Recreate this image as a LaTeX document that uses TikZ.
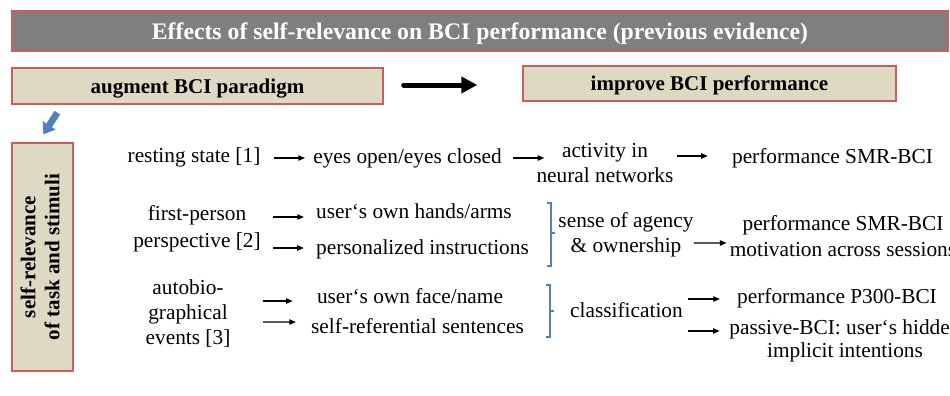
\documentclass[tikz,border=0pt]{standalone}
\usepackage{fontspec}
\usepackage{graphicx}
\setmainfont{Liberation Serif}
\usetikzlibrary{arrows.meta,calc}

\definecolor{barGray}{HTML}{7F7F7F}
\definecolor{boxTan}{HTML}{DDD9C3}
\definecolor{boxRed}{HTML}{CD5C5C}
\definecolor{accBlue}{HTML}{4F81BD}

\begin{document}
\begin{tikzpicture}[x=0.75pt,y=-0.75pt,
  hdrbar/.style={fill=barGray, draw=boxRed, line width=1pt, inner sep=0pt,
    minimum width=702pt, minimum height=30pt, text=white, text depth=0pt,
    font=\fontsize{17.8}{20}\selectfont\bfseries},
  tanbox/.style={fill=boxTan, draw=boxRed, line width=1pt, inner sep=0pt,
    text depth=0pt, font=\fontsize{15.75}{18}\selectfont\bfseries},
  txt/.style={inner sep=0pt, font=\fontsize{16}{18.75}\selectfont},
  conn/.style={line width=1pt, -{Triangle[length=5pt,width=4pt]}},
  bigarrow/.style={line width=3.75pt, line cap=round, -{Triangle[length=12pt,width=12pt]}},
  bluearrow/.style={accBlue, line width=5pt, -{Triangle[length=8pt,width=11pt]}},
  brk/.style={accBlue, line width=0.9pt}]

\useasboundingbox (0,0) rectangle (950,396);
\fill[white] (0,0) rectangle (950,396);
\clip (0,0) rectangle (950,396);

% header bar and the two summary boxes
\node[hdrbar] (title) at (480,31) {Effects of self-relevance on BCI performance (previous evidence)};
\node[tanbox, minimum width=278.25pt, minimum height=27pt] (aug) at (197.5,86) {augment BCI paradigm};
\node[tanbox, minimum width=279.75pt, minimum height=26.25pt] (imp) at (709.5,83.5) {improve BCI performance};
\node[tanbox, text depth=, minimum width=45.75pt, minimum height=171pt] (vbox) at (42.5,257)
  {\rotatebox{90}{\begin{tabular}{@{}c@{}}self-relevance\\of task and stimuli\end{tabular}}};

\draw[bigarrow] ($(aug.east)+(20,-1)$) -- ($(imp.west)+(-45,1.5)$);
\draw[bluearrow] ($(aug.south west)+(46,8)$) -- ($(vbox.north west)+(32,-8)$);

% row 1: resting state
\node[txt,anchor=base] (rs) at (194,162) {resting state [1]};
\node[txt,anchor=base] (eo) at (407.5,163) {eyes open/eyes closed};
\node[txt,align=center] (an) at (605,163.3) {activity in\\neural networks};
\node[txt,anchor=base] (ps) at (832.5,163) {performance SMR-BCI};

% row 2: first-person perspective
\node[txt,align=center,font=\fontsize{16}{20.25}\selectfont] (fp) at (197,228.5) {first-person\\perspective [2]};
\node[txt,anchor=base] (uh) at (414,218) {user‘s own hands/arms};
\node[txt,anchor=base] (pi) at (422.5,254) {personalized instructions};
\node[txt,align=center] (sa) at (626,234.5) {sense of agency\\\& ownership};
\node[txt,align=center,font=\fontsize{16}{19.5}\selectfont] (pm) at (843,235.8) {performance SMR-BCI\\motivation across sessions};

% row 3: autobiographical events
\node[txt,align=center] (ab) at (188,313.4) {autobio-\\graphical\\events [3]};
\node[txt,anchor=base] (uf) at (410,303) {user‘s own face/name};
\node[txt,anchor=base] (sr) at (417.5,333) {self-referential sentences};
\node[txt,anchor=base] (cl) at (626.5,317) {classification};
\node[txt,anchor=base] (p3) at (837,303) {performance P300-BCI};
\node[txt,align=center,font=\fontsize{16}{17.25}\selectfont] (pb) at (845,340.5) {passive-BCI: user‘s hidden\\implicit intentions};

% connectors
\draw[conn] ($(rs.base east)+(13,-4)$) -- ($(eo.base west)+(-8,-5)$);
\draw[conn] ($(eo.base east)+(11,-5)$) -- ($(an.west)+(8,-5.3)$);
\draw[conn] ($(an.east)+(3.6,-7.3)$) -- ($(ps.base west)+(-24,-7)$);
\draw[conn] ($(fp.east)+(12.3,-11.5)$) -- ($(uh.base west)+(-12,-1)$);
\draw[conn] ($(fp.east)+(12.3,19.5)$) -- ($(pi.base west)+(-12,-6)$);
\draw[conn] ($(sa.east)+(0,8.5)$) -- ($(pm.west)+(-3,7.2)$);
\draw[conn] ($(ab.east)+(32.6,-12.4)$) -- ($(uf.base west)+(-24,-2)$);
\draw[conn] ($(ab.east)+(32.6,8.6)$) -- ($(sr.base west)+(-15,-11)$);
\draw[conn] ($(cl.base east)+(5,-18)$) -- ($(p3.base west)+(-17,-4)$);
\draw[conn] ($(cl.base east)+(5,14)$) -- ($(pb.west)+(-9.5,-9.5)$);

% grouping brackets
\draw[brk] (547,203) -- (551,203) -- (551,266) -- (547,266) (551,233) -- (555,233);
\draw[brk] (546,285) -- (550,285) -- (550,337) -- (546,337) (550,311) -- (554,311);

\end{tikzpicture}
\end{document}
